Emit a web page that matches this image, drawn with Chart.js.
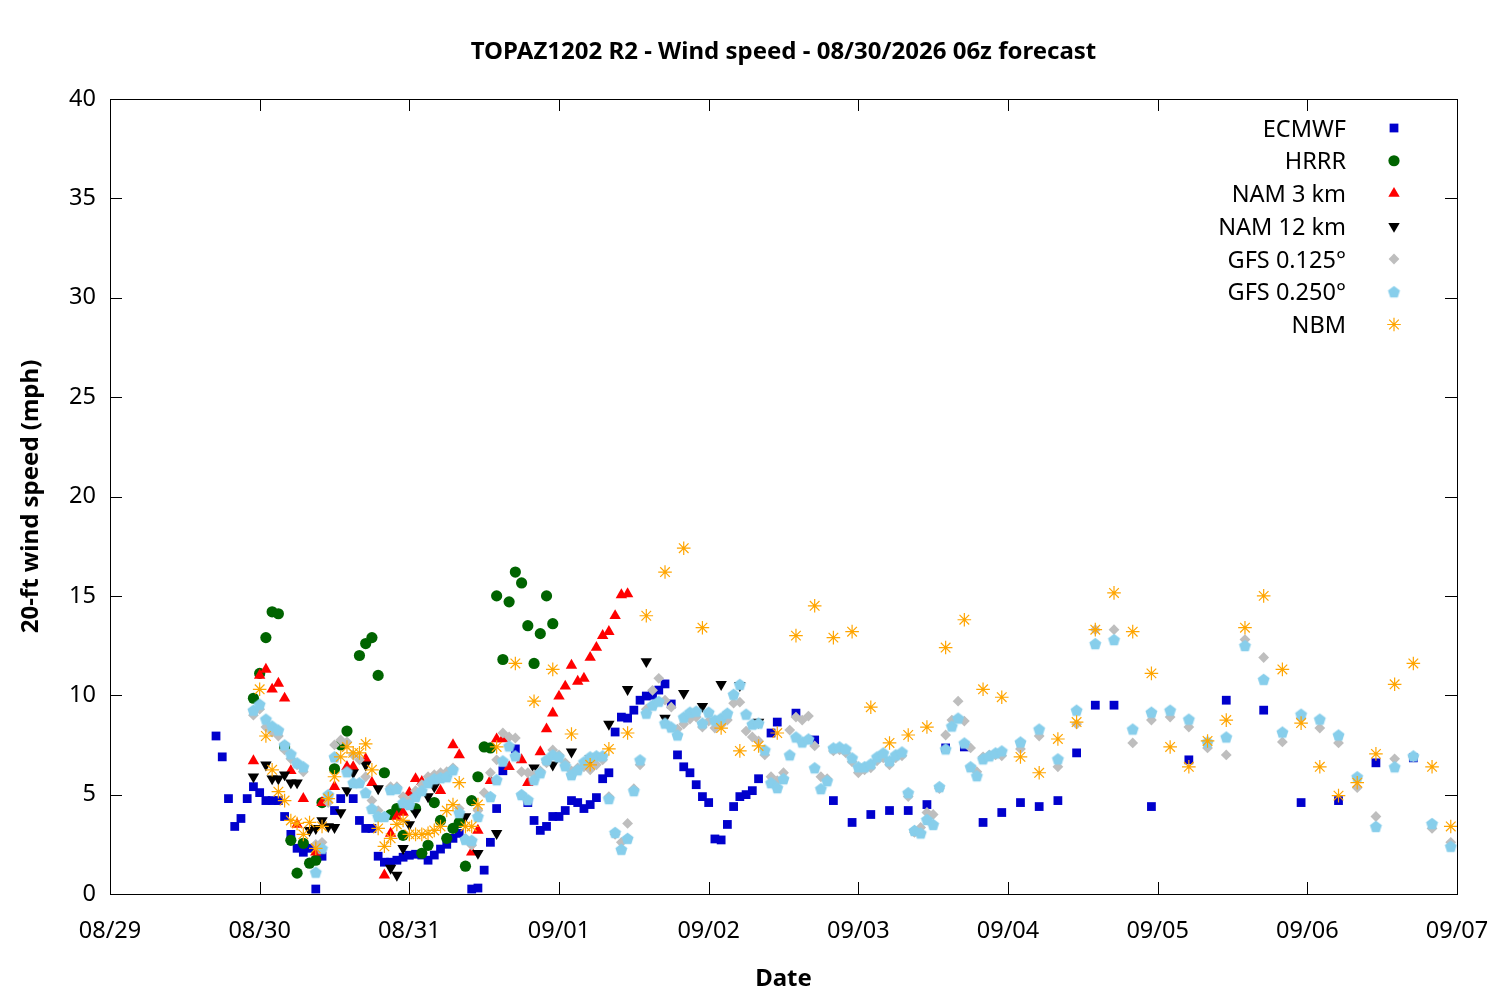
<!DOCTYPE html>
<html><head><meta charset="utf-8">
<script src="https://cdn.jsdelivr.net/npm/chart.js@4.4.1/dist/chart.umd.min.js"></script>
<style>html,body{margin:0;padding:0;background:#fff}#wrap{width:1500px;height:1000px}</style>
</head><body><div id="wrap"><canvas id="c" width="1500" height="1000"></canvas></div>
<script>
// ---- data (x = hours after 08/29 00:00) ----
const dateLabels = ['08/29','08/30','08/31','09/01','09/02','09/03','09/04','09/05','09/06','09/07'];
const chartTitle = 'TOPAZ1202 R2 - Wind speed - 08/30/2026 06z forecast';
const yTitle = '20-ft wind speed (mph)';
const xTitle = 'Date';
const seriesNames = ['ECMWF','HRRR','NAM 3 km','NAM 12 km','GFS 0.125°','GFS 0.250°','NBM'];

const ecmwfHours = [17,18,19,20,21,22,23,24,25,26,27,28,29,30,31,32,33,34,36,37,39,40,41,42,43,44,45,46,47,48,49,50,51,52,53,54,55,56,58,59,60,61,62,63,65,67,68,69,70,71,72,73,74,75,76,77,78,79,80,81,82,83,84,85,86,87,88,89,90,91,92,93,94,95,96,97,98,99,100,101,102,103,104,106,107,110,113,116,119,122,125,128,131,134,137,140,143,146,149,152,155,158,161,167,173,179,185,191,197,203,209];
const ecmwfValues = [7.95,6.9,4.8,3.4,3.8,4.8,5.4,5.1,4.7,4.7,4.7,3.9,3.0,2.3,2.1,2.3,0.25,1.9,4.2,4.8,4.8,3.7,3.3,3.3,1.9,1.6,1.6,1.7,1.85,1.95,2.0,1.96,1.7,1.96,2.26,2.5,2.8,3.05,0.25,0.3,1.2,2.6,4.3,6.2,7.3,4.6,3.7,3.2,3.4,3.9,3.9,4.2,4.7,4.6,4.3,4.5,4.85,5.8,6.1,8.15,8.9,8.85,9.25,9.75,9.96,10.0,10.26,10.57,9.56,7.0,6.4,6.1,5.5,4.9,4.6,2.77,2.72,3.5,4.4,4.9,5.0,5.2,5.8,8.1,8.65,9.1,7.75,4.7,3.6,4.0,4.2,4.2,4.5,7.35,7.4,3.6,4.1,4.6,4.4,4.7,7.1,9.5,9.5,4.4,6.75,9.75,9.25,4.6,4.7,6.6,6.85];

const hrrrHours = [23,24,25,26,27,28,29,30,31,32,33,34,36,37,38,40,41,42,43,44,45,46,47,49,50,51,52,53,54,55,56,57,58,59,60,61,62,63,64,65,66,67,68,69,70,71];
const hrrrValues = [9.85,11.1,12.9,14.2,14.1,7.4,2.7,1.05,2.55,1.55,1.7,4.6,6.3,7.5,8.2,12.0,12.6,12.9,11.0,6.1,4.0,4.3,2.95,4.3,2.05,2.45,4.6,3.7,2.8,3.3,3.6,1.4,4.7,5.9,7.4,7.35,15.0,11.8,14.7,16.2,15.65,13.5,11.6,13.1,15.0,13.6];

const nam3Hours = [23,24,25,26,27,28,29,30,31,33,34,36,38,39,41,42,44,45,46,47,48,49,50,53,55,56,58,59,61,62,63,64,66,67,69,70,71,72,73,74,75,76,77,78,79,80,81,82,83];
const nam3Values = [6.7,11.0,11.3,10.3,10.6,9.85,6.2,3.5,4.8,2.1,4.6,5.4,6.4,6.4,6.8,5.6,0.95,3.05,3.9,4.1,5.1,5.8,5.65,5.2,7.5,7.0,2.1,3.2,5.7,7.8,7.8,6.4,6.75,5.6,7.15,8.3,9.1,9.95,10.45,11.5,10.7,10.85,11.9,12.4,13.0,13.2,14.0,15.05,15.1];

const nam12Hours = [23,25,26,27,28,29,30,32,33,34,35,36,37,38,39,41,43,45,46,47,48,49,51,52,57,59,62,68,71,74,77,80,83,86,89,92,95,98,101,104];
const nam12Values = [5.9,6.5,5.8,5.8,6.0,5.6,5.6,3.2,3.3,3.7,3.4,3.35,4.1,5.2,6.1,6.5,5.3,1.3,0.95,2.3,3.5,4.1,4.9,5.4,3.9,2.05,3.05,6.35,6.5,7.15,6.8,8.55,10.3,11.7,8.85,10.1,9.45,10.55,10.5,8.65];

const gfs125Hours = [23,24,25,26,27,28,29,30,31,33,34,35,36,37,38,39,40,41,42,43,44,45,46,47,48,49,50,51,52,53,54,55,56,57,58,59,60,61,62,63,64,65,66,67,68,69,70,71,72,73,74,75,76,77,78,79,80,81,82,83,84,85,86,87,88,89,90,91,92,93,94,95,96,97,98,99,100,101,102,103,104,105,106,107,108,109,110,111,112,113,114,115,116,117,118,119,120,121,122,123,124,125,126,127,128,129,130,131,132,133,134,135,136,137,138,139,140,141,142,143,146,149,152,155,158,161,164,167,170,173,176,179,182,185,188,191,194,197,200,203,206,209,212,215];
const gfs125Values = [9.0,9.3,8.4,8.15,7.95,7.25,6.8,6.5,6.15,2.5,2.6,4.6,7.5,7.75,7.65,7.0,6.75,5.9,4.7,4.2,3.9,5.4,5.4,4.9,4.7,5.2,5.5,5.9,6.0,6.1,6.15,6.35,4.3,2.8,2.45,4.2,5.1,6.1,6.75,8.1,7.9,7.85,6.15,6.1,6.0,6.2,6.6,7.25,7.0,6.6,6.2,6.35,6.4,6.25,6.5,6.75,4.9,3.0,2.6,3.55,5.3,6.5,9.3,10.25,10.85,9.75,9.4,8.3,8.55,8.8,8.9,8.4,8.7,8.35,8.5,8.75,9.6,9.65,8.2,7.9,7.7,7.0,5.9,5.7,6.1,8.25,8.9,8.75,8.95,7.45,5.9,5.8,7.2,7.25,7.1,6.65,6.1,6.25,6.35,6.7,6.85,6.5,6.85,6.95,4.9,3.1,3.35,4.1,4.0,5.3,8.0,8.75,9.7,8.7,7.35,6.15,6.9,7.0,7.0,6.95,7.3,7.95,6.4,8.55,13.3,13.3,7.6,8.75,8.9,8.4,7.35,7.0,12.8,11.9,7.65,8.85,8.35,7.6,5.35,3.9,6.8,6.9,3.3,2.6];

const gfs250Hours = [23,24,25,26,27,28,29,30,31,33,34,35,36,38,39,40,41,42,43,44,45,46,47,48,49,50,51,52,53,54,55,56,57,58,59,61,62,63,64,65,66,67,68,69,70,71,72,73,74,75,76,77,78,79,80,81,82,83,84,85,86,87,88,89,90,91,92,93,94,95,96,97,98,99,100,101,102,103,104,105,106,107,108,109,110,111,112,113,114,115,116,117,118,119,120,121,122,123,124,125,126,127,128,129,130,131,132,133,134,135,136,137,138,139,140,141,142,143,146,149,152,155,158,161,164,167,170,173,176,179,182,185,188,191,194,197,200,203,206,209,212,215];
const gfs250Values = [9.25,9.55,8.8,8.45,8.25,7.5,7.05,6.6,6.4,1.1,2.3,5.0,6.9,6.15,5.6,5.6,5.1,4.3,3.9,3.9,5.25,5.3,4.6,4.5,4.9,5.2,5.6,5.8,5.85,5.9,6.25,4.1,2.75,2.7,3.9,4.9,5.75,6.7,7.45,6.95,5.0,4.75,5.75,6.1,6.75,7.0,6.9,6.45,6.0,6.25,6.65,6.9,6.95,6.95,4.8,3.1,2.25,2.8,5.2,6.75,9.1,9.5,9.7,8.6,8.4,8.0,8.9,9.15,9.2,8.6,9.15,8.75,8.85,9.1,10.05,10.55,9.05,8.55,8.6,7.25,5.6,5.35,5.8,7.0,7.9,7.65,7.8,6.35,5.3,5.7,7.35,7.4,7.3,6.85,6.4,6.4,6.55,6.9,7.1,6.7,7.0,7.15,5.1,3.2,3.07,3.75,3.5,5.4,7.3,8.45,8.85,7.6,6.4,5.95,6.8,6.95,7.1,7.2,7.65,8.3,6.8,9.25,12.6,12.8,8.3,9.15,9.25,8.8,7.65,7.9,12.5,10.8,8.15,9.05,8.8,8.0,5.9,3.4,6.4,6.95,3.55,2.4];

const nbmHours = [24,25,26,27,28,29,30,31,32,33,34,35,36,37,38,39,40,41,42,43,44,45,46,47,48,49,50,51,52,53,54,55,56,57,58,59,62,65,68,71,74,77,80,83,86,89,92,95,98,101,104,107,110,113,116,119,122,125,128,131,134,137,140,143,146,149,152,155,158,161,164,167,170,173,176,179,182,185,188,191,194,197,200,203,206,209,212,215];
const nbmValues = [10.3,7.95,6.25,5.15,4.7,3.7,3.55,3.0,3.6,2.3,3.4,4.8,5.9,6.9,7.4,7.1,7.1,7.55,6.25,3.3,2.4,2.8,3.5,3.7,3.0,3.0,3.0,3.05,3.2,3.4,4.2,4.5,5.6,3.4,3.4,4.5,7.4,11.6,9.7,11.3,8.05,6.5,7.3,8.1,14.0,16.2,17.4,13.4,8.35,7.2,7.45,8.1,13.0,14.5,12.9,13.2,9.4,7.6,8.0,8.4,12.4,13.8,10.3,9.9,6.9,6.1,7.8,8.65,13.3,15.15,13.2,11.1,7.4,6.4,7.7,8.75,13.4,15.0,11.3,8.6,6.4,4.95,5.6,7.05,10.55,11.6,6.4,3.4];

const yTicks = [0,5,10,15,20,25,30,35,40];

// ---- helpers ----
function pts(hs, vs){ return hs.map((h,i)=>({x:h, y:vs[i]})); }
const FONT = '"Noto Sans", "Open Sans", sans-serif';
const FS = 23.5, FSB = 24;

function makePentagon(color, r){
  const s = Math.ceil(r*2+2);
  const cv = document.createElement('canvas'); cv.width = s; cv.height = s;
  const g = cv.getContext('2d');
  g.fillStyle = color; g.beginPath();
  for(let k=0;k<5;k++){
    const a = -Math.PI/2 + k*2*Math.PI/5;
    const px = s/2 + r*Math.cos(a), py = s/2 + r*Math.sin(a) + 0.6;
    if(k===0) g.moveTo(px,py); else g.lineTo(px,py);
  }
  g.closePath(); g.fill();
  return cv;
}
const pentagon = makePentagon('#87CEEB', 6.3);

const styles = [
  {color:'#0000CC', style:'rect', r:6.2, rot:0},
  {color:'#006400', style:'circle', r:5.6, rot:0},
  {color:'#FF0000', style:'triangle', r:6.6, rot:0},
  {color:'#000000', style:'triangle', r:6.6, rot:180},
  {color:'#BEBEBE', style:'rectRot', r:5.4, rot:0},
  {color:'#87CEEB', style:pentagon, r:6.3, rot:0},
  {color:'#FFA500', style:'star', r:6.8, rot:0, stroke:true}
];
const seriesData = [
  pts(ecmwfHours, ecmwfValues),
  pts(hrrrHours, hrrrValues),
  pts(nam3Hours, nam3Values),
  pts(nam12Hours, nam12Values),
  pts(gfs125Hours, gfs125Values),
  pts(gfs250Hours, gfs250Values),
  pts(nbmHours, nbmValues)
];

const datasets = seriesNames.map((name,i)=>{
  const s = styles[i];
  return {
    label: name,
    data: seriesData[i],
    order: seriesNames.length - i,
    showLine: false,
    pointStyle: s.style,
    pointRadius: s.r,
    pointHoverRadius: s.r,
    pointRotation: s.rot,
    backgroundColor: s.color,
    borderColor: s.color,
    pointBorderWidth: s.stroke ? 1.2 : 0,
    borderWidth: s.stroke ? 1.2 : 0
  };
});

function drawMarker(ctx, s, x, y){
  ctx.save();
  ctx.fillStyle = s.color; ctx.strokeStyle = s.color;
  ctx.translate(x, y);
  if (typeof s.style !== 'string'){
    ctx.drawImage(s.style, -s.style.width/2, -s.style.height/2);
  } else if (s.style === 'rect'){
    const h = s.r*Math.SQRT1_2; ctx.fillRect(-h,-h,2*h,2*h);
  } else if (s.style === 'circle'){
    ctx.beginPath(); ctx.arc(0,0,s.r,0,Math.PI*2); ctx.fill();
  } else if (s.style === 'triangle'){
    ctx.rotate(s.rot*Math.PI/180);
    ctx.beginPath();
    for(let k=0;k<3;k++){ const a = -Math.PI/2 + k*2*Math.PI/3; const px=s.r*Math.cos(a), py=s.r*Math.sin(a); k?ctx.lineTo(px,py):ctx.moveTo(px,py); }
    ctx.closePath(); ctx.fill();
  } else if (s.style === 'rectRot'){
    ctx.beginPath(); ctx.moveTo(0,-s.r); ctx.lineTo(s.r,0); ctx.lineTo(0,s.r); ctx.lineTo(-s.r,0); ctx.closePath(); ctx.fill();
  } else if (s.style === 'star'){
    ctx.lineWidth = 1.2; ctx.beginPath();
    for(let k=0;k<4;k++){ const a = k*Math.PI/4; ctx.moveTo(-s.r*Math.cos(a), -s.r*Math.sin(a)); ctx.lineTo(s.r*Math.cos(a), s.r*Math.sin(a)); }
    ctx.stroke();
  }
  ctx.restore();
}

const framePlugin = {
  id: 'frame',
  afterDraw(chart){
    const {ctx, chartArea:a, scales} = chart;
    const xs = scales.x, ys = scales.y;
    ctx.save();
    ctx.strokeStyle = '#000'; ctx.lineWidth = 1;
    ctx.strokeRect(Math.round(a.left)+0.5, Math.round(a.top)+0.5, Math.round(a.right-a.left), Math.round(a.bottom-a.top));
    const TL = 12;
    ctx.beginPath();
    dateLabels.forEach((lab,i)=>{
      const px = Math.round(xs.getPixelForValue(i*24))+0.5;
      ctx.moveTo(px, a.bottom); ctx.lineTo(px, a.bottom-TL);
      ctx.moveTo(px, a.top); ctx.lineTo(px, a.top+TL);
    });
    yTicks.forEach(v=>{
      const py = Math.round(ys.getPixelForValue(v))+0.5;
      ctx.moveTo(a.left, py); ctx.lineTo(a.left+TL, py);
      ctx.moveTo(a.right, py); ctx.lineTo(a.right-TL, py);
    });
    ctx.stroke();
    // titles
    ctx.fillStyle = '#000';
    ctx.textAlign = 'center'; ctx.textBaseline = 'middle';
    ctx.font = 'bold ' + FSB + 'px ' + FONT;
    ctx.fillText(chartTitle, (a.left+a.right)/2, 52);
    ctx.fillText(xTitle, (a.left+a.right)/2, 979);
    ctx.save();
    ctx.translate(31, (a.top+a.bottom)/2);
    ctx.rotate(-Math.PI/2);
    ctx.fillText(yTitle, 0, 0);
    ctx.restore();
    // legend
    ctx.font = FS + 'px ' + FONT;
    ctx.textAlign = 'right';
    seriesNames.forEach((name,i)=>{
      const yy = 130 + i*32.75;
      ctx.fillText(name, 1346, yy);
      drawMarker(ctx, styles[i], 1394, yy - 2);
    });
    ctx.restore();
  }
};

new Chart(document.getElementById('c'), {
  type: 'scatter',
  data: { datasets },
  options: {
    responsive: false,
    devicePixelRatio: 1,
    animation: false,
    layout: { padding: { left: 0, top: 99, right: 43, bottom: 0 } },
    plugins: { legend: { display: false }, tooltip: { enabled: false }, title: { display: false } },
    scales: {
      x: {
        type: 'linear', min: 0, max: 216,
        afterFit(s){ s.height = 106; s.paddingLeft = 0; s.paddingRight = 0; },
        afterBuildTicks(s){ s.ticks = dateLabels.map((l,i)=>({value:i*24})); },
        ticks: { stepSize: 24, autoSkip: false, maxRotation: 0, padding: 23, color: '#000',
                 font: { size: FS, family: FONT },
                 callback: (v)=> dateLabels[Math.round(v/24)] },
        grid: { display: false, drawTicks: false },
        border: { display: false }
      },
      y: {
        min: 0, max: 40,
        afterFit(s){ s.width = 110; s.paddingTop = 0; s.paddingBottom = 0; },
        afterBuildTicks(s){ s.ticks = yTicks.map(v=>({value:v})); },
        ticks: { stepSize: 5, padding: 14, color: '#000', font: { size: FS, family: FONT } },
        grid: { display: false, drawTicks: false },
        border: { display: false }
      }
    }
  },
  plugins: [framePlugin]
});
</script>
</body></html>
